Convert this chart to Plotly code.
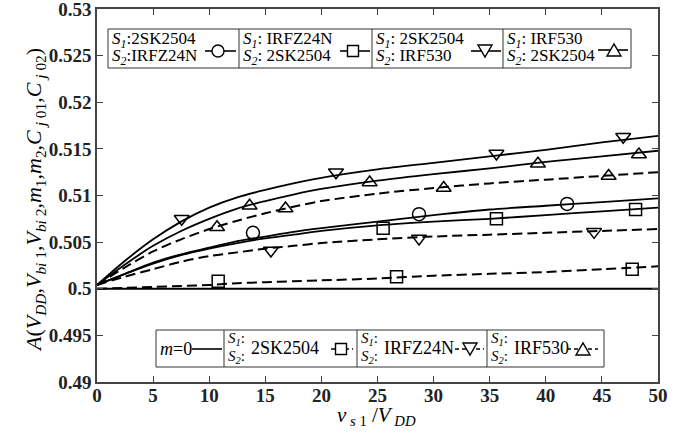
import plotly.graph_objects as go

# ---------------- data ----------------
x_grid = [0, 2.5, 5, 7.5, 10, 12.5, 15, 17.5, 20, 25, 30, 35, 40, 45, 50]

# solid curves (top legend)
y_circle_solid = [0.5004, 0.5016, 0.5028, 0.5037, 0.5044, 0.5051, 0.5056, 0.5061, 0.5065, 0.5072, 0.5079, 0.5085, 0.5089, 0.5093, 0.5097]
y_square_solid = [0.5004, 0.5016, 0.5027, 0.5036, 0.5043, 0.5049, 0.5054, 0.5058, 0.5062, 0.5068, 0.5072, 0.5075, 0.5079, 0.5083, 0.5087]
y_tdown_solid = [0.5004, 0.5030, 0.5053, 0.5072, 0.5087, 0.5098, 0.5106, 0.5113, 0.5119, 0.5128, 0.5135, 0.5142, 0.5149, 0.5157, 0.5164]
y_tup_solid = [0.5004, 0.5026, 0.5046, 0.5062, 0.5075, 0.5086, 0.5094, 0.5101, 0.5107, 0.5116, 0.5123, 0.5129, 0.5136, 0.5142, 0.5148]

# dashed curves (bottom legend)
y_square_dash = [0.5000, 0.5001, 0.5002, 0.5003, 0.5004, 0.5006, 0.5007, 0.5008, 0.5009, 0.5011, 0.5014, 0.5016, 0.5018, 0.5021, 0.5024]
y_tdown_dash = [0.5004, 0.5013, 0.5021, 0.5029, 0.5035, 0.5039, 0.5043, 0.5046, 0.5049, 0.5053, 0.5056, 0.5058, 0.5060, 0.5062, 0.5064]
y_tup_dash = [0.5004, 0.5023, 0.5040, 0.5053, 0.5064, 0.5073, 0.5081, 0.5088, 0.5094, 0.5102, 0.5108, 0.5113, 0.5117, 0.5121, 0.5125]

# m = 0 reference
m0_x = [0, 50]
m0_y = [0.5, 0.5]

# marker points
mk_circle_solid_x = [13.9, 28.7, 41.9]
mk_circle_solid_y = [0.5060, 0.5080, 0.5091]
mk_square_solid_x = [25.5, 35.6, 48.0]
mk_square_solid_y = [0.5065, 0.5075, 0.5085]
mk_tdown_solid_x = [7.55, 21.3, 35.6, 46.9]
mk_tdown_solid_y = [0.5075, 0.5125, 0.5145, 0.5163]
mk_tup_solid_x = [13.6, 24.3, 39.3, 48.3]
mk_tup_solid_y = [0.5089, 0.5114, 0.5134, 0.5144]

mk_square_dash_x = [10.8, 26.7, 47.7]
mk_square_dash_y = [0.5008, 0.5013, 0.5021]
mk_tdown_dash_x = [15.5, 28.7, 44.3]
mk_tdown_dash_y = [0.5041, 0.5054, 0.5061]
mk_tup_dash_x = [10.7, 16.8, 30.9, 45.6]
mk_tup_dash_y = [0.5066, 0.5086, 0.5108, 0.5121]

x_ticks = [0, 5, 10, 15, 20, 25, 30, 35, 40, 45, 50]
y_ticks = [0.49, 0.495, 0.5, 0.505, 0.51, 0.515, 0.52, 0.525, 0.53]
y_ticktext = ['0.49', '0.495', '0.5', '0.505', '0.51', '0.515', '0.52', '0.525', '0.53']

# ---------------- figure ----------------
W, H = 694, 439
ML, MR, MT, MB = 97, 36, 9, 57
PW, PH = W - ML - MR, H - MT - MB

def X(px):
    return (px - ML) / PW

def Y(py):
    return (H - MB - py) / PH

fig = go.Figure()
DASH = '10px,5px'

fig.add_trace(go.Scatter(x=m0_x, y=m0_y, mode='lines', line=dict(color='black', width=2)))

for ys in [y_circle_solid, y_square_solid, y_tdown_solid, y_tup_solid]:
    fig.add_trace(go.Scatter(x=x_grid, y=ys, mode='lines',
                             line=dict(color='black', width=1.8, shape='spline', smoothing=0.8)))
for ys in [y_square_dash, y_tdown_dash, y_tup_dash]:
    fig.add_trace(go.Scatter(x=x_grid, y=ys, mode='lines',
                             line=dict(color='black', width=2, dash=DASH, shape='spline', smoothing=0.8)))

def mk(xs, ys, sym, size=12):
    fig.add_trace(go.Scatter(x=xs, y=ys, mode='markers',
                             marker=dict(symbol=sym, size=size, color='black',
                                         line=dict(width=1.5, color='black'))))

mk(mk_circle_solid_x, mk_circle_solid_y, 'circle-open', 13)
mk(mk_square_solid_x, mk_square_solid_y, 'square-open', 12)
mk(mk_tdown_solid_x, mk_tdown_solid_y, 'triangle-down-open', 13)
mk(mk_tup_solid_x, mk_tup_solid_y, 'triangle-up-open', 13)
mk(mk_square_dash_x, mk_square_dash_y, 'square-open', 12)
mk(mk_tdown_dash_x, mk_tdown_dash_y, 'triangle-down-open', 13)
mk(mk_tup_dash_x, mk_tup_dash_y, 'triangle-up-open', 13)

shapes = []
annots = []
FONT = 'Liberation Serif, Times New Roman, serif'

def box(x0, y0, x1, y1):
    shapes.append(dict(type='rect', xref='paper', yref='paper', x0=X(x0), x1=X(x1), y0=Y(y1), y1=Y(y0),
                       line=dict(color='#333', width=1), fillcolor='white', layer='above'))

def vline(px, y0, y1):
    shapes.append(dict(type='line', xref='paper', yref='paper', x0=X(px), x1=X(px), y0=Y(y0), y1=Y(y1),
                       line=dict(color='#333', width=1)))

def seg(x0, x1, py, dash=None):
    ln = dict(color='black', width=1.6)
    if dash:
        ln['dash'] = dash
    shapes.append(dict(type='line', xref='paper', yref='paper', x0=X(x0), x1=X(x1), y0=Y(py), y1=Y(py), line=ln))

def sym(kind, px, py, r=6):
    ln = dict(color='black', width=1.4)
    if kind == 'circle':
        shapes.append(dict(type='circle', xref='paper', yref='paper', x0=X(px - r), x1=X(px + r),
                           y0=Y(py + r), y1=Y(py - r), line=ln, fillcolor='white'))
    elif kind == 'square':
        shapes.append(dict(type='rect', xref='paper', yref='paper', x0=X(px - r), x1=X(px + r),
                           y0=Y(py + r), y1=Y(py - r), line=ln, fillcolor='white'))
    elif kind == 'tdown':
        path = 'M %f,%f L %f,%f L %f,%f Z' % (X(px - r - 1), Y(py - r), X(px + r + 1), Y(py - r), X(px), Y(py + r))
        shapes.append(dict(type='path', xref='paper', yref='paper', path=path, line=ln, fillcolor='white'))
    elif kind == 'tup':
        path = 'M %f,%f L %f,%f L %f,%f Z' % (X(px - r - 1), Y(py + r), X(px + r + 1), Y(py + r), X(px), Y(py - r))
        shapes.append(dict(type='path', xref='paper', yref='paper', path=path, line=ln, fillcolor='white'))

def txt(px, py, s, size=17, anchor='left'):
    annots.append(dict(xref='paper', yref='paper', x=X(px), y=Y(py), text=s, showarrow=False,
                       xanchor=anchor, yanchor='middle', font=dict(family=FONT, size=size, color='black')))

S1 = '<i>S</i><sub><i>1</i></sub>:'
S2 = '<i>S</i><sub><i>2</i></sub>:'

# top legend
box(108, 29, 631, 68)
for vx in [239, 372, 503]:
    vline(vx, 29, 68)
txt(110, 40, S1 + '2SK2504')
txt(110, 57, S2 + 'IRFZ24N')
seg(205, 236, 51); sym('circle', 218, 51)
txt(241, 40, S1 + ' IRFZ24N')
txt(241, 57, S2 + ' 2SK2504')
seg(340, 370, 51); sym('square', 353, 51, 5.5)
txt(374, 40, S1 + ' 2SK2504')
txt(374, 57, S2 + ' IRF530')
seg(471, 501, 51); sym('tdown', 485, 51)
txt(505, 40, S1 + ' IRF530')
txt(505, 57, S2 + ' 2SK2504')
seg(598, 628, 50); sym('tup', 614, 50)

# bottom legend
box(156, 330, 604, 367)
for vx in [224, 357, 487]:
    vline(vx, 330, 367)
txt(158, 349, '<i>m</i>=0', 18)
seg(192, 222, 349)
txt(226, 339, S1, 15)
txt(226, 357, S2, 15)
txt(249, 348, '2SK2504', 18)
seg(331, 353, 349, '4px,3px'); sym('square', 341, 349, 5.5)
txt(359, 339, S1, 15)
txt(359, 357, S2, 15)
txt(382, 348, 'IRFZ24N', 18)
seg(455, 484, 349, '4px,3px'); sym('tdown', 470, 349)
txt(489, 339, S1, 15)
txt(489, 357, S2, 15)
txt(512, 348, 'IRF530', 18)
seg(567, 598, 349, '4px,3px'); sym('tup', 583, 349)

# axis titles
annots.append(dict(xref='paper', yref='paper', x=X(35), y=Y(200), textangle=-90, showarrow=False,
                   xanchor='center', yanchor='middle',
                   text='<i>A</i>(<i>V</i><sub><i>DD</i></sub>,<i>V</i><sub><i>bi</i> 1</sub>,'
                        '<i>V</i><sub><i>bi</i> 2</sub>,<i>m</i><sub>1</sub>,<i>m</i><sub>2</sub>,'
                        '<i>C</i><sub> <i>j</i> 01</sub>,<i>C</i><sub> <i>j</i> 02</sub>)',
                   font=dict(family=FONT, size=22, color='black')))
annots.append(dict(xref='paper', yref='paper', x=X(376), y=Y(416), showarrow=False,
                   xanchor='center', yanchor='middle',
                   text='<i>v</i><sub> <i>s</i> 1</sub> /<i>V</i><sub> <i>DD</i></sub>',
                   font=dict(family=FONT, size=21, color='black')))

axis_common = dict(showline=True, mirror='ticks', linecolor='#444', linewidth=1.5,
                   ticks='inside', ticklen=6, tickcolor='#444', tickwidth=1.2,
                   showgrid=False, zeroline=False, automargin=False, ticklabeloverflow='allow',
                   tickfont=dict(family=FONT, size=19, color='#222', weight='bold'))

fig.update_layout(
    width=W, height=H,
    margin=dict(l=ML, r=MR, t=MT, b=MB),
    paper_bgcolor='white', plot_bgcolor='white',
    showlegend=False,
    xaxis=dict(range=[0, 50], tickvals=x_ticks, ticklabelstandoff=-5, **axis_common),
    yaxis=dict(range=[0.49, 0.53], tickvals=y_ticks, ticktext=y_ticktext, **axis_common),
    shapes=shapes, annotations=annots,
)

fig.write_html('out.html', config={'displayModeBar': False},
               post_script="document.body.style.margin='0px';")
